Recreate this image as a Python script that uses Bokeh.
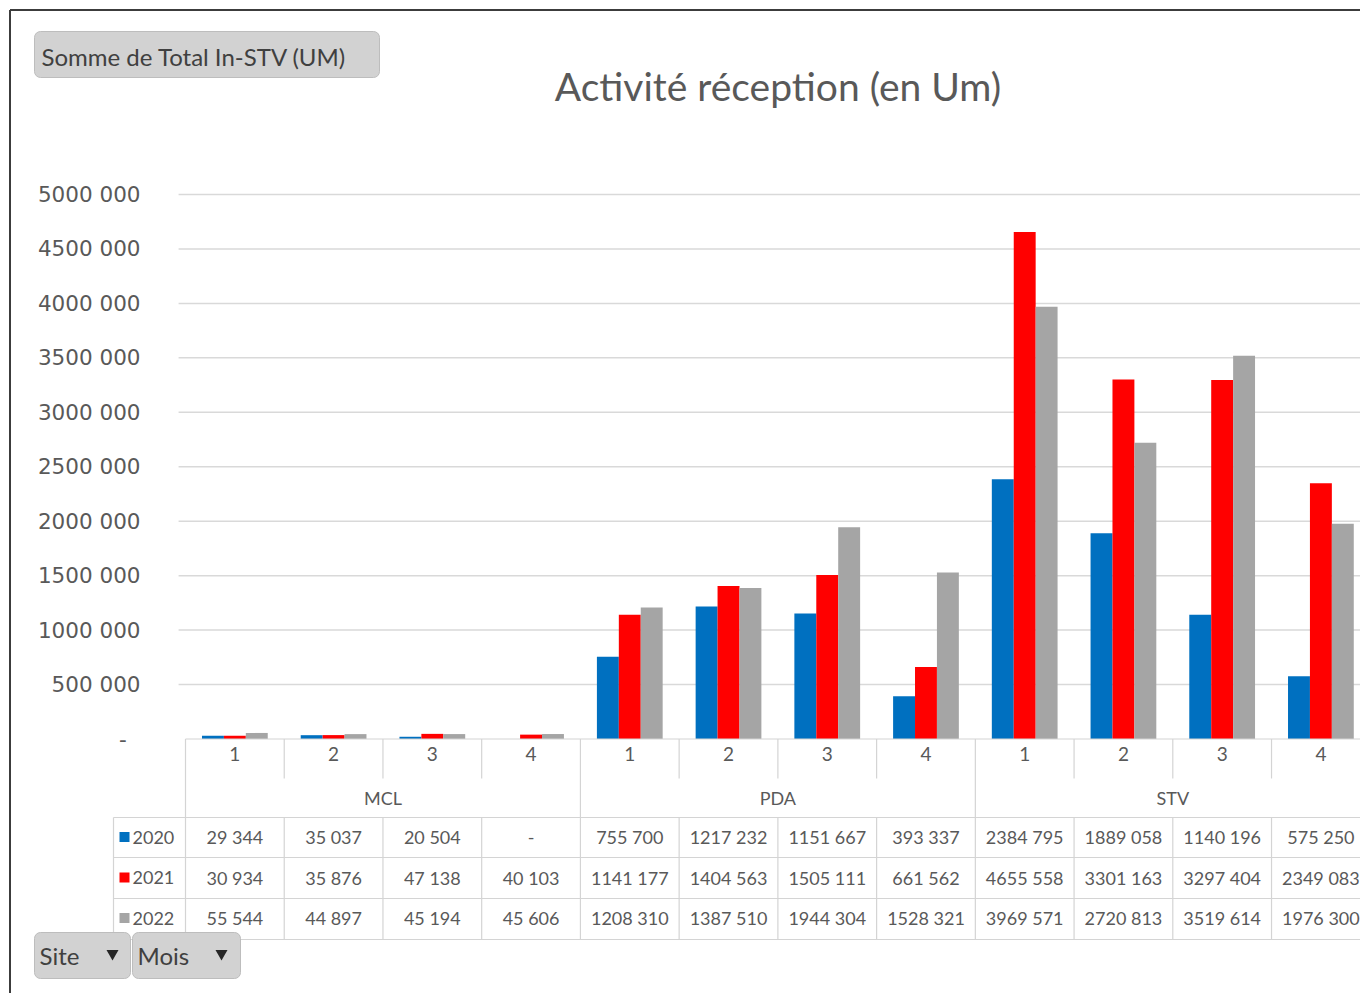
from bokeh.plotting import figure
from bokeh.models import Range1d, LinearAxis, FixedTicker, ColumnDataSource
from bokeh.core.properties import value
from bokeh.embed import file_html
from bokeh.resources import INLINE

# ---------------- data ----------------
sites = ["MCL", "PDA", "STV"]
months = ["1", "2", "3", "4"]
years = ["2020", "2021", "2022"]
v2020 = [29344, 35037, 20504, 0, 755700, 1217232, 1151667, 393337, 2384795, 1889058, 1140196, 575250]
v2021 = [30934, 35876, 47138, 40103, 1141177, 1404563, 1505111, 661562, 4655558, 3301163, 3297404, 2349083]
v2022 = [55544, 44897, 45194, 45606, 1208310, 1387510, 1944304, 1528321, 3969571, 2720813, 3519614, 1976300]
yticks = [0, 500000, 1000000, 1500000, 2000000, 2500000, 3000000, 3500000, 4000000, 4500000, 5000000]
title_text = "Activité réception (en Um)"
field_button = "Somme de Total In-STV (UM)"
filter_buttons = ["Site", "Mois"]

series = [v2020, v2021, v2022]
colors = ["#0070C0", "#FF0000", "#A5A5A5"]


def fmt(v):
    if v == 0:
        return "-"
    if v >= 1000:
        return f"{v // 1000} {v % 1000:03d}"
    return str(v)


# ---------------- layout constants (screen pixels) ----------------
PAGE_L, PAGE_T, PAGE_R, PAGE_B = 0, 0, 1360, 993
W, H = PAGE_R - PAGE_L, PAGE_B - PAGE_T
X0 = 185.0          # x of category axis start
CAT_W = 98.73       # px per category
Y0 = 738.5          # y of value 0
PX_PER_UNIT = 108.9 / 1e6

n_cat = len(sites) * len(months)
x_range = Range1d((PAGE_L - X0) / CAT_W, (PAGE_R - X0) / CAT_W)
y_range = Range1d(-(PAGE_B - Y0) / PX_PER_UNIT, (Y0 - PAGE_T) / PX_PER_UNIT)

p = figure(width=W, height=H, x_range=x_range, y_range=y_range,
           output_backend="svg", toolbar_location=None,
           x_axis_location=None, y_axis_location=None,
           min_border=0, outline_line_color=None,
           background_fill_color="white", border_fill_color="white")
p.grid.visible = False
p.extra_x_ranges = {"px": Range1d(PAGE_L, PAGE_R)}
p.extra_y_ranges = {"py": Range1d(PAGE_B, PAGE_T)}

TXT = "#595959"
LINE = "#d4d4d4"
FONT = value("Lato")

# ---------------- gridlines (from tick values) ----------------
grid_vals = [t for t in yticks if t > 0]
p.segment(x0=[-0.07] * len(grid_vals), x1=[n_cat + 1] * len(grid_vals),
          y0=grid_vals, y1=grid_vals, line_color="#d9d9d9", line_width=1.5)

# ---------------- bars ----------------
BAR_W = 0.222
offsets = [-BAR_W, 0.0, BAR_W]
for vals, col, off in zip(series, colors, offsets):
    src = ColumnDataSource(dict(x=[i + 0.5 + off for i in range(n_cat)], top=vals))
    p.vbar(x="x", top="top", bottom=0, width=BAR_W, source=src,
           fill_color=col, line_color=None)

# ---------------- axes ----------------
yaxis = LinearAxis(fixed_location=0, ticker=FixedTicker(ticks=yticks),
                   axis_line_color=None, major_tick_line_color=None,
                   minor_tick_line_color=None, major_tick_out=0,
                   major_label_standoff=45,
                   major_label_text_font="DejaVu Sans",
                   major_label_text_font_size="21.5px",
                   major_label_text_color=TXT,
                   major_label_overrides={t: (fmt(t) if t else "-\u00a0\u00a0") for t in yticks})
p.add_layout(yaxis, "left")

xt = [i + 0.5 for i in range(n_cat)]
xaxis = LinearAxis(fixed_location=0, ticker=FixedTicker(ticks=xt),
                   axis_line_color=None, major_tick_line_color=None,
                   minor_tick_line_color=None, major_tick_out=0,
                   major_label_standoff=8,
                   major_label_text_font="Lato",
                   major_label_text_font_size="19px",
                   major_label_text_color=TXT,
                   major_label_overrides={t: months[i % len(months)] for i, t in enumerate(xt)})
p.add_layout(xaxis, "below")

# ---------------- data table ----------------
ROW_Y = [836.5, 877.0, 917.5]
TAB_TOP, CAT_ROW_B, GRP_ROW_B, TAB_B = Y0, 778.0, 817.0, 939.0
TAB_L = 113.0

# horizontal lines
p.segment(x0=[0], x1=[n_cat + 1], y0=[0], y1=[0], line_color=LINE, line_width=1.2)
hl = [GRP_ROW_B, 857.0, 898.0, TAB_B]
p.segment(x0=[TAB_L] * 4, x1=[PAGE_R] * 4, y0=hl, y1=hl, line_color=LINE, line_width=1.2,
          x_range_name="px", y_range_name="py")
p.segment(x0=[TAB_L], x1=[TAB_L], y0=[GRP_ROW_B], y1=[TAB_B], line_color=LINE, line_width=1.2,
          x_range_name="px", y_range_name="py")
# vertical separators
grp_edges = [g * len(months) for g in range(len(sites) + 1)]
p.segment(x0=grp_edges, x1=grp_edges, y0=[TAB_TOP] * len(grp_edges), y1=[TAB_B] * len(grp_edges),
          line_color=LINE, line_width=1.2, y_range_name="py")
inner = [i for i in range(1, n_cat) if i % len(months)]
p.segment(x0=inner, x1=inner, y0=[TAB_TOP] * len(inner), y1=[CAT_ROW_B] * len(inner),
          line_color=LINE, line_width=1.2, y_range_name="py")
p.segment(x0=inner, x1=inner, y0=[GRP_ROW_B] * len(inner), y1=[TAB_B] * len(inner),
          line_color=LINE, line_width=1.2, y_range_name="py")

# group labels
p.text(x=[g * len(months) + len(months) / 2 for g in range(len(sites))], y=[797.0] * len(sites),
       text=sites, text_font=FONT, text_font_size="18px", text_color=TXT,
       text_align="center", text_baseline="middle", y_range_name="py")

# cell values
cx, cy, ct = [], [], []
for r, vals in enumerate(series):
    for i, v in enumerate(vals):
        cx.append(i + 0.5)
        cy.append(ROW_Y[r])
        ct.append(fmt(v))
p.text(x=cx, y=cy, text=ct, text_font=FONT, text_font_size="18px", text_color=TXT,
       text_align="center", text_baseline="middle", y_range_name="py")

# row legend keys + labels
p.scatter(x=[124.0] * 3, y=ROW_Y, marker="square", size=10, fill_color=colors, line_color=None,
          x_range_name="px", y_range_name="py")
p.text(x=[132.0] * 3, y=ROW_Y, text=years, text_font=FONT, text_font_size="18px", text_color=TXT,
       text_align="left", text_baseline="middle", x_range_name="px", y_range_name="py")

# ---------------- title ----------------
p.text(x=[777.5], y=[85.0], text=[title_text], text_font=FONT, text_font_size="39px",
       text_color=TXT, text_align="center", text_baseline="middle",
       x_range_name="px", y_range_name="py")

# ---------------- pivot buttons ----------------
BTN_FILL = "#d2d2d2"
BTN_LINE = "#bdbdbd"
p.quad(left=[34], right=[379], top=[31], bottom=[77], fill_color=BTN_FILL, line_color=BTN_LINE,
       border_radius=6, x_range_name="px", y_range_name="py")
p.text(x=[41.0], y=[56.0], text=[field_button], text_font=FONT, text_font_size="24px",
       text_color="#404040", text_align="left", text_baseline="middle",
       x_range_name="px", y_range_name="py")

p.quad(left=[34, 132], right=[130, 240], top=[932, 932], bottom=[978, 978],
       fill_color=BTN_FILL, line_color=BTN_LINE, border_radius=6,
       x_range_name="px", y_range_name="py")
p.text(x=[39.0, 137.0], y=[955.0, 955.0], text=filter_buttons, text_font=FONT,
       text_font_size="24px", text_color="#404040", text_align="left", text_baseline="middle",
       x_range_name="px", y_range_name="py")
p.scatter(x=[112.0, 221.0], y=[953.0, 953.0], marker="inverted_triangle", size=12,
          fill_color="#262626", line_color=None, x_range_name="px", y_range_name="py")

# ---------------- outer border ----------------
p.segment(x0=[9.5, 9.5], x1=[9.5, PAGE_R], y0=[9.5, 9.5], y1=[PAGE_B, 9.5],
          line_color="#3c3c3c", line_width=2, x_range_name="px", y_range_name="py")

open("out.html", "w").write(file_html(p, INLINE))
